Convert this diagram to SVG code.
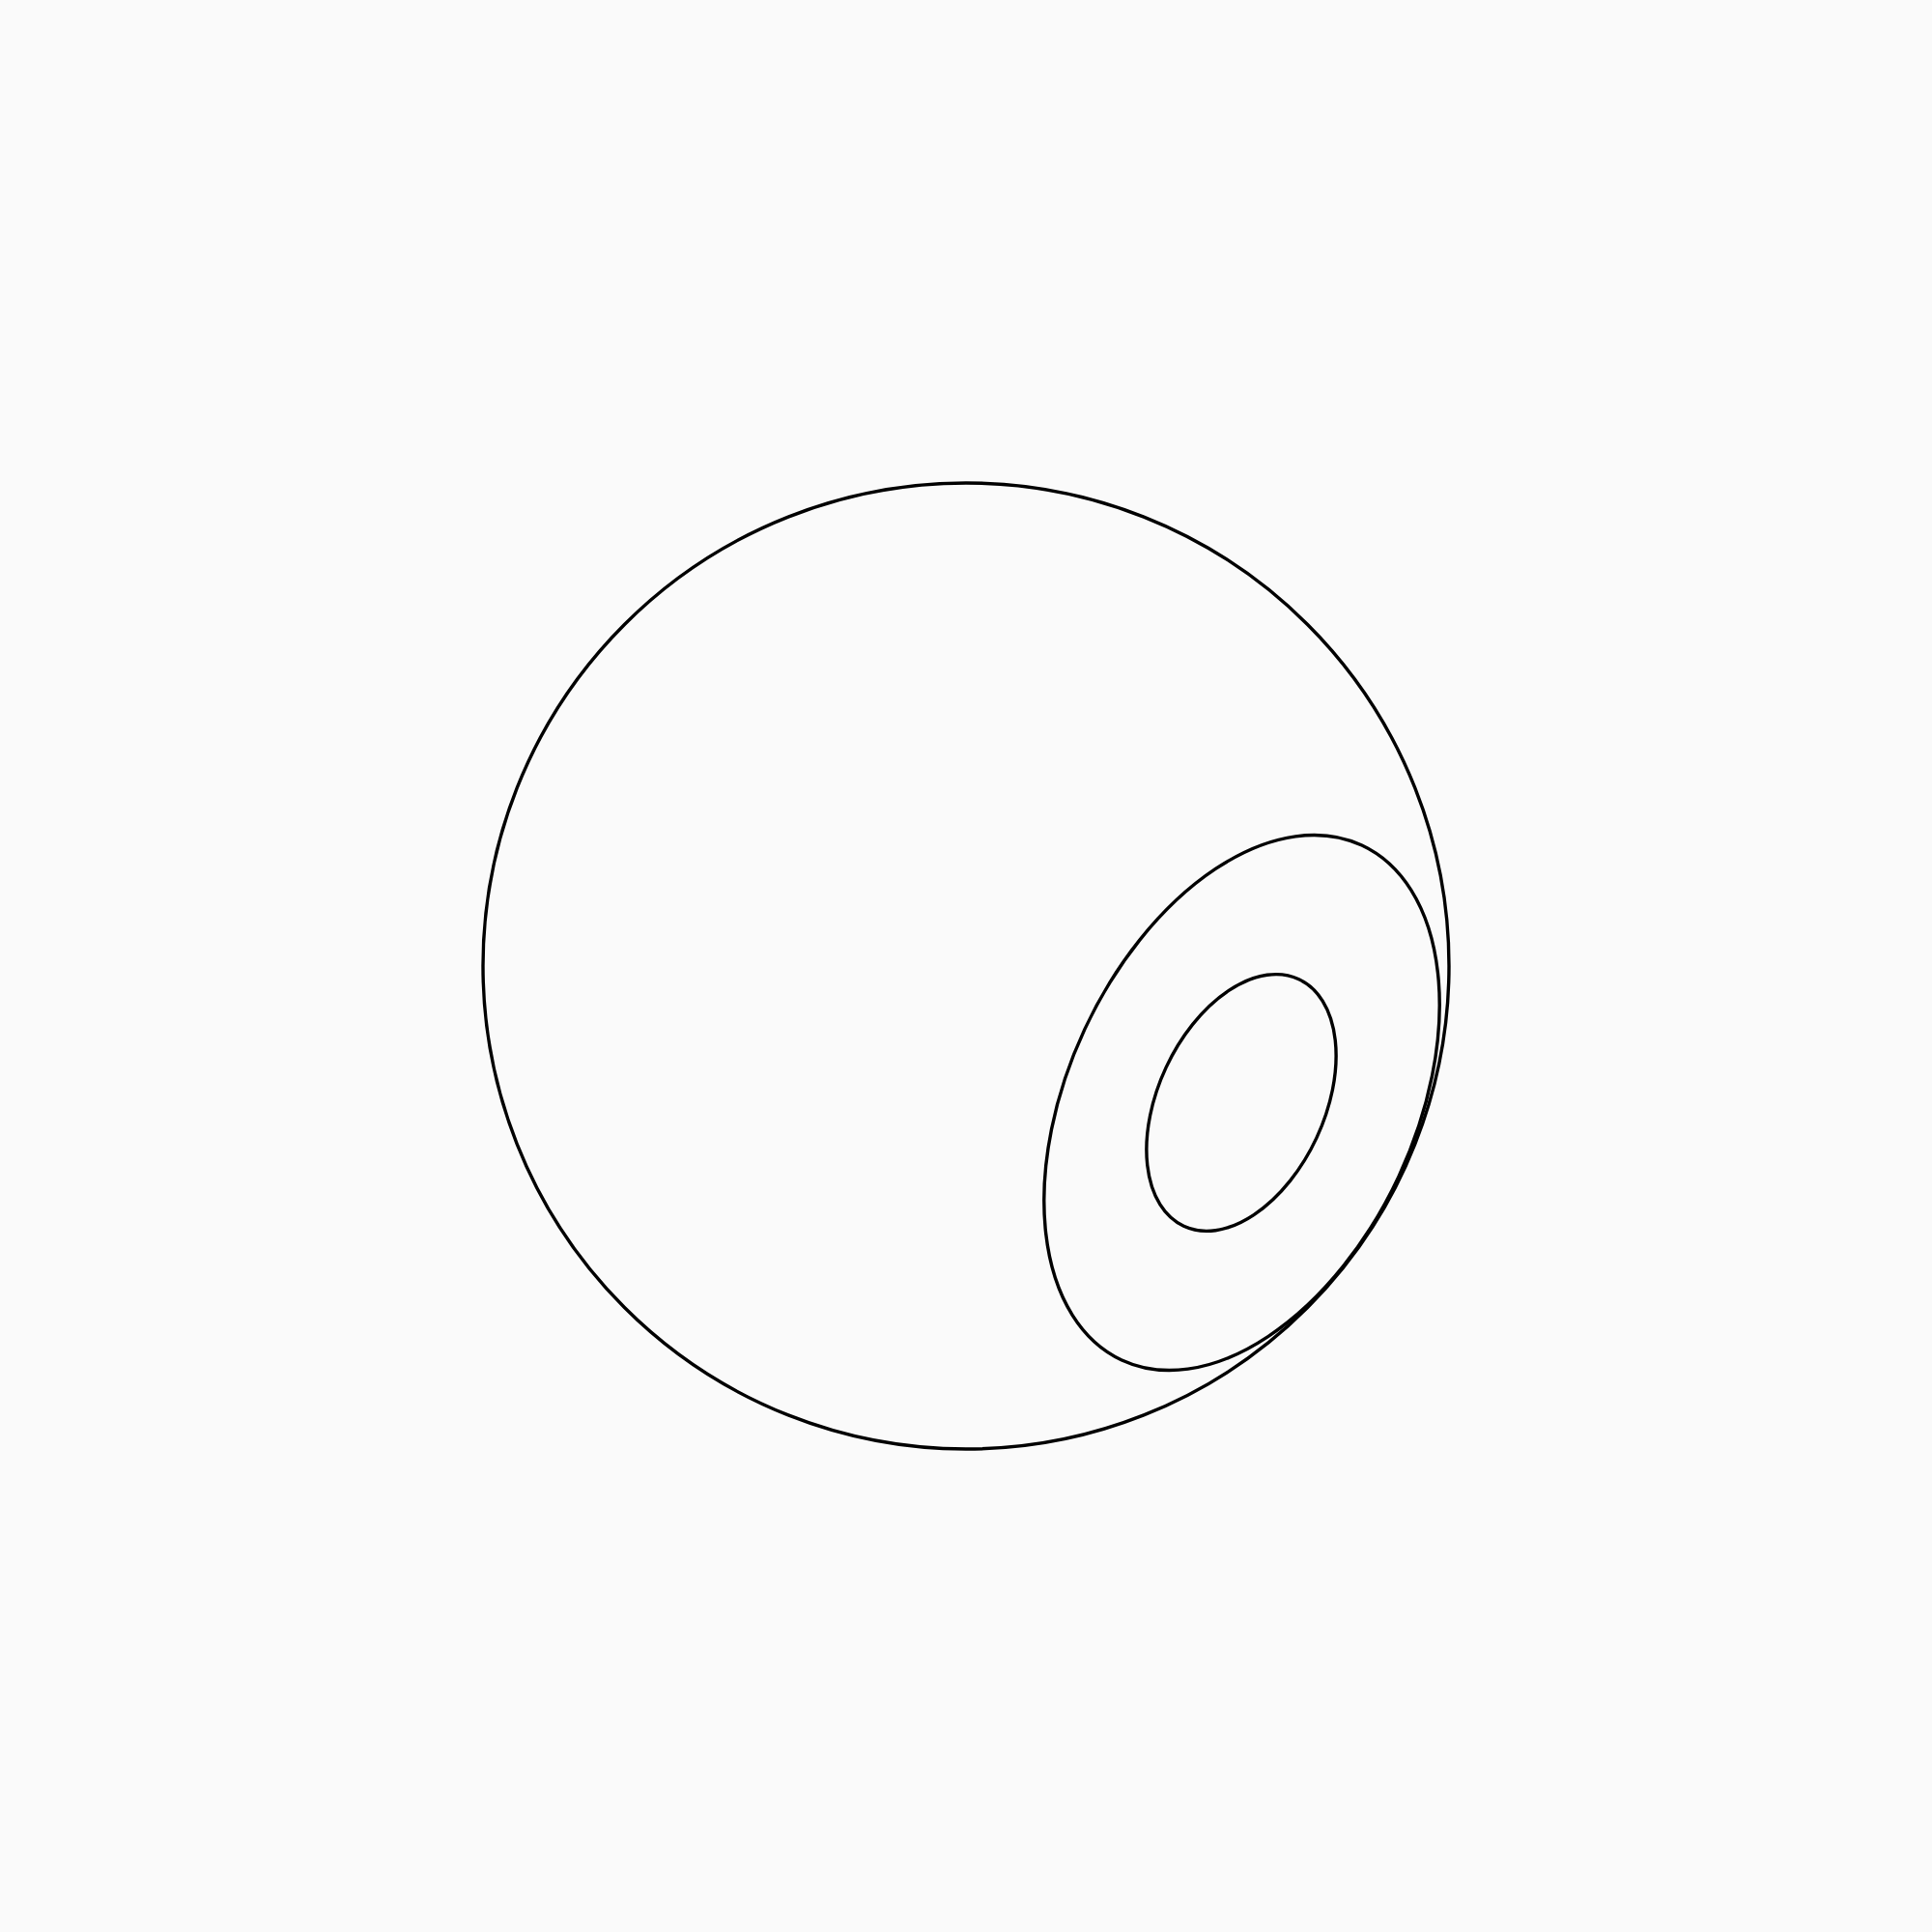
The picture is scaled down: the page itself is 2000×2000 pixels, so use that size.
<svg xmlns="http://www.w3.org/2000/svg" width="2000" height="2000" viewBox="0 0 2000 2000">
<style>.s{fill:none;stroke:#000;stroke-width:3.4}</style>
<rect width="2000" height="2000" fill="#fafafa"/>
<g id="outer"><circle class="s" cx="1000" cy="1000" r="500"/></g>
<g id="middle"><ellipse class="s" cx="1285.5" cy="1141.5" rx="294" ry="179.5" transform="rotate(-65 1285.5 1141.5)"/></g>
<g id="inner"><ellipse class="s" cx="1285" cy="1141.5" rx="141" ry="86" transform="rotate(-65 1285 1141.5)"/></g>
<g id="connectors"/>
</svg>
